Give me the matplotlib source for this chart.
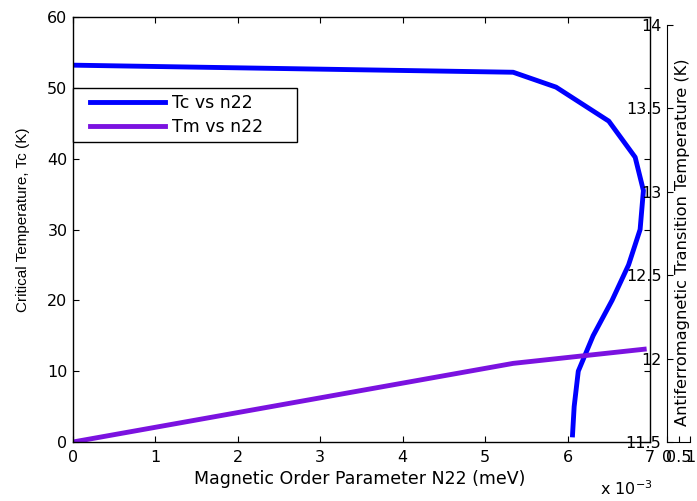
import matplotlib
matplotlib.use("Agg")
import matplotlib.pyplot as plt
from matplotlib.patches import Rectangle

plt.rcParams['font.family'] = ['DejaVu Sans']

# Tc vs n22 (n22 in units of 1e-3 meV)
tc_n22 = [0, 5.34, 5.86, 6.50, 6.82, 6.92, 6.88, 6.74, 6.54, 6.31, 6.13, 6.08, 6.06]
tc_vals = [53.2, 52.2, 50.1, 45.3, 40.2, 35.5, 30.0, 25.0, 20.0, 15.0, 10.0, 5.0, 1.0]

# Tm vs n22 (drawn on left scale)
tm_n22 = [0, 5.34, 6.93]
tm_vals = [0, 11.1, 13.1]

left_ticks = [0, 10, 20, 30, 40, 50, 60]
right_ticks = [11.5, 12, 12.5, 13, 13.5, 14]
right_ticklabels = ['11.5', '12', '12.5', '13', '13.5', '14']
tiny_xticks = [0, 0.5, 1]
tiny_xticklabels = ['0', '0.5', '1']

W, H = 697, 501
fig = plt.figure(figsize=(W / 100, H / 100), dpi=100)

def fpos(x0, y0, x1, y1):
    # pixel box (top-left origin) -> figure fraction
    return [x0 / W, 1 - y1 / H, (x1 - x0) / W, (y1 - y0) / H]

TS = 11.5  # tick label size

ax = fig.add_axes(fpos(73, 17, 650, 442))
ax.plot(tc_n22, tc_vals, color='#0000ff', lw=3.5, label='Tc vs n22')
ax.plot(tm_n22, tm_vals, color='#7b12e0', lw=3.5, label='Tm vs n22')
ax.set_xlim(0, 7)
ax.set_ylim(0, 60)
ax.set_xticks(range(8))
ax.set_yticks(left_ticks)
ax.tick_params(direction='in', top=True, right=True, length=4, width=0.8, labelsize=TS)
ax.tick_params(axis='x', pad=6)
ax.tick_params(axis='y', pad=4)
for s in ax.spines.values():
    s.set_linewidth(1.0)
ax.set_xlabel('Magnetic Order Parameter N22 (meV)', fontsize=12.5, va='center')
ax.xaxis.set_label_coords(0.497, -(479 - 442) / 425)
ax.set_ylabel('Critical Temperature, Tc (K)', fontsize=11, va='center',
              family=['Liberation Sans', 'DejaVu Sans'])
ax.yaxis.set_label_coords((23 - 73) / 577, (442 - 220) / 425)
fig.text(600 / W, 1 - 489 / H, r'x 10$^{-3}$', fontsize=11.5, va='center', ha='left')

# legend: frame drawn at the reference spot, entries placed inside
fs_px = 12.5 * 100 / 72
ax.add_patch(Rectangle((73 / W, 1 - 142 / H), (297 - 73) / W, (142 - 88) / H,
                       transform=fig.transFigure, facecolor='white', edgecolor='black',
                       lw=1.0, clip_on=False, zorder=5))
leg = ax.legend(loc='upper left', bbox_to_anchor=(90 / W, 1 - 94 / H),
                bbox_transform=fig.transFigure, borderaxespad=0, borderpad=0,
                frameon=False, fontsize=12.5, handlelength=75 / fs_px,
                handletextpad=7 / fs_px, labelspacing=0.34)
leg.set_zorder(6)

# narrow extra axes carrying the right-hand temperature scale
ax3 = fig.add_axes(fpos(667, 25, 690, 442))
ax3.patch.set_alpha(0)
ax3.set_xlim(0, 1)
ax3.set_ylim(11.5, 14)
ax3.set_xticks(tiny_xticks)
ax3.set_xticklabels(tiny_xticklabels)
ax3.set_yticks(right_ticks)
ax3.set_yticklabels(right_ticklabels)
ax3.spines['top'].set_visible(False)
ax3.spines['right'].set_visible(False)
ax3.tick_params(direction='in', length=4, width=0.8, labelsize=TS)
ax3.tick_params(axis='x', pad=6)
ax3.tick_params(axis='y', pad=4)
ax3.set_ylabel('Antiferromagnetic Transition Temperature (K)', fontsize=11.7, va='center')
ax3.yaxis.set_label_coords((683 - 667) / 23, 0.48)

fig.savefig('out.png', dpi=100)
